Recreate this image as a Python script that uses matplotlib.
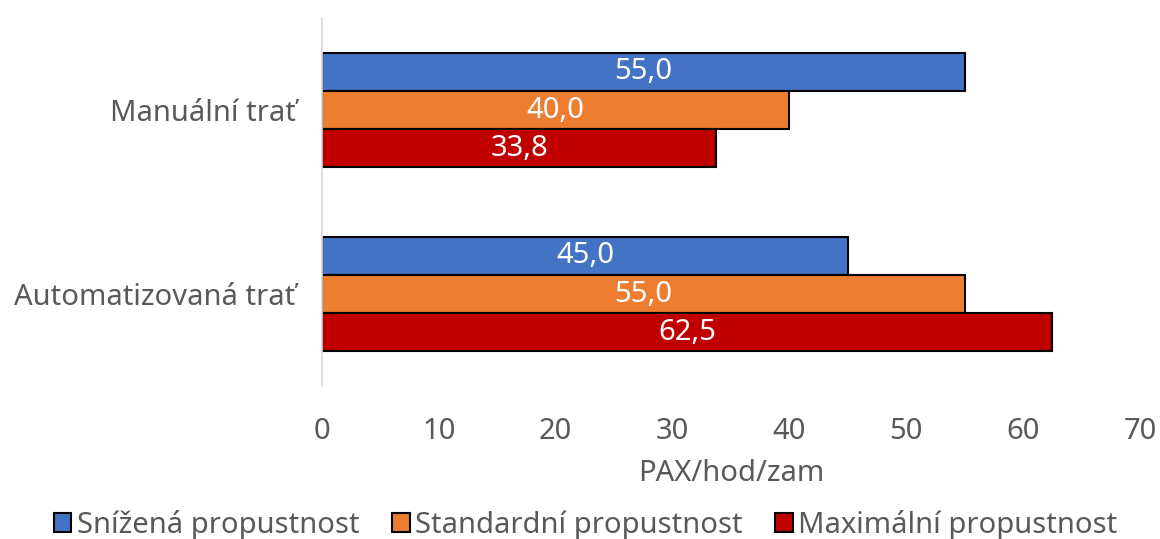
import numpy as np
import matplotlib.pyplot as plt
from matplotlib.patches import Patch

categories = ['Automatizovaná trať', 'Manuální trať']
series = ['Snížená propustnost', 'Standardní propustnost', 'Maximální propustnost']
snizena = [45.0, 55.0]
standardni = [55.0, 40.0]
maximalni = [62.5, 33.75]
colors = ['#4472C4', '#ED7D31', '#C00000']

plt.rcParams['font.family'] = ['Noto Sans', 'DejaVu Sans']
grey = '#595959'
fs = 21

fig = plt.figure(figsize=(11.6, 5.39), dpi=100)
ax = fig.add_axes([322 / 1160, 1 - 386 / 539, (1140 - 322) / 1160, 368 / 539])

y = np.arange(len(categories))
h = 0.207
for vals, off, c in zip([snizena, standardni, maximalni], [h, 0, -h], colors):
    bars = ax.barh(y + off, vals, height=h, color=c, edgecolor='black', linewidth=1.5)
    for b, v in zip(bars, vals):
        ax.text(b.get_width() / 2, b.get_y() + b.get_height() / 2,
                f'{v:.1f}'.replace('.', ','), ha='center', va='center',
                color='white', fontsize=fs)

ax.set_xlim(0, 70)
ax.set_ylim(-0.5, 1.5)
ax.set_xticks(range(0, 71, 10))
ax.set_yticks(y)
ax.set_yticklabels(categories)
ax.tick_params(axis='both', length=0, labelsize=fs, colors=grey)
ax.tick_params(axis='y', pad=19)
ax.tick_params(axis='x', pad=22)
for s in ['top', 'right', 'bottom']:
    ax.spines[s].set_visible(False)
ax.spines['left'].set_color('#D9D9D9')
ax.spines['left'].set_linewidth(1.2)
ax.set_xlabel('PAX/hod/zam', fontsize=fs, color=grey, labelpad=10)

handles = [Patch(facecolor=c, edgecolor='black', linewidth=1.5) for c in colors]
fig.legend(handles, series, loc='lower center', bbox_to_anchor=(0.505, -0.05), ncol=3,
           frameon=False, fontsize=fs, labelcolor=grey, handlelength=0.6,
           handleheight=0.6, handletextpad=0.2, columnspacing=1.1)

fig.savefig('out.png', dpi=100)
